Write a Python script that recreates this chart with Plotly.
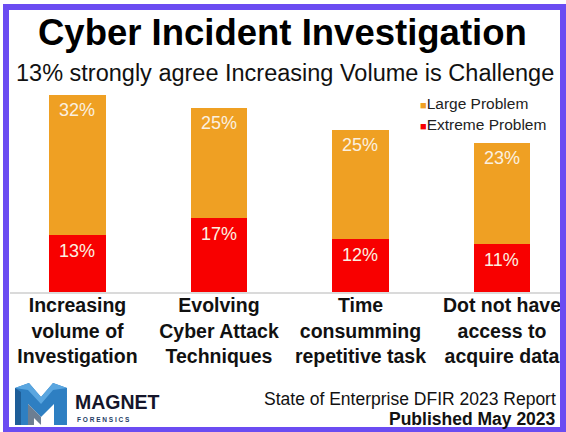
import plotly.graph_objects as go

# values
categories = [
    "Increasing<br>volume of<br>Investigation",
    "Evolving<br>Cyber Attack<br>Techniques",
    "Time<br>consumming<br>repetitive task",
    "Dot not have<br>access to<br>acquire data",
]
extreme = [13, 17, 12, 11]
large = [32, 25, 25, 23]

ORANGE = "#EFA023"
RED = "#F80000"
FRAME = "#6B4CF2"
LABEL = "#FBF0E0"
FONT = "Liberation Sans, Arial, sans-serif"

W, H = 566, 432
L, R, T, B = 10, 6, 70, 140


# helpers: pixel position on the page -> paper coordinates (for decorations only)
def px(x):
    return (x - L) / (W - L - R)


def py(y):
    return (H - B - y) / (H - T - B)


fig = go.Figure()
fig.add_trace(go.Bar(x=categories, y=extreme, name="Extreme Problem",
                     marker=dict(color=RED, line=dict(width=0)), width=0.40))
fig.add_trace(go.Bar(x=categories, y=large, name="Large Problem",
                     marker=dict(color=ORANGE, line=dict(width=0)), width=0.40))

ann = []
# value labels near the top of each segment
for c, e, g in zip(categories, extreme, large):
    ann.append(dict(x=c, y=e, xref="x", yref="y", text=f"{e}%", showarrow=False,
                    yanchor="middle", yshift=-16, font=dict(size=18, color=LABEL, family=FONT)))
    ann.append(dict(x=c, y=e + g, xref="x", yref="y", text=f"{g}%", showarrow=False,
                    yanchor="middle", yshift=-15, font=dict(size=18, color=LABEL, family=FONT)))

# titles
ann.append(dict(x=px(282), y=py(33), xref="paper", yref="paper", text="<b>Cyber Incident Investigation</b>",
                showarrow=False, xanchor="center", yanchor="middle",
                font=dict(size=36.5, color="#000000", family=FONT)))
ann.append(dict(x=px(285), y=py(73), xref="paper", yref="paper",
                text="13% strongly agree Increasing Volume is Challenge",
                showarrow=False, xanchor="center", yanchor="middle",
                font=dict(size=23.5, color="#111111", family=FONT)))

# legend
for name, col, yy in [("Large Problem", ORANGE, 103), ("Extreme Problem", RED, 124)]:
    ann.append(dict(x=px(418), y=py(yy), xref="paper", yref="paper",
                    text=f"<span style='color:{col};font-size:11px'>■</span>{name}",
                    showarrow=False, xanchor="left", yanchor="middle",
                    font=dict(size=15.5, color="#222222", family=FONT)))

# footer
ann.append(dict(x=px(558), y=py(399), xref="paper", yref="paper",
                text="State of Enterprise DFIR 2023 Report", showarrow=False,
                xanchor="right", yanchor="middle", font=dict(size=17.5, color="#111111", family=FONT)))
ann.append(dict(x=px(558), y=py(419), xref="paper", yref="paper",
                text="<b>Published May 2023</b>", showarrow=False,
                xanchor="right", yanchor="middle", font=dict(size=17.5, color="#111111", family=FONT)))

# logo text
ann.append(dict(x=px(73), y=py(402), xref="paper", yref="paper", text="<b>MAGNET</b>",
                showarrow=False, xanchor="left", yanchor="middle",
                font=dict(size=19.5, color="#15152a", family=FONT)))
ann.append(dict(x=px(75), y=py(419), xref="paper", yref="paper", text="<b>F O R E N S I C S</b>",
                showarrow=False, xanchor="left", yanchor="middle",
                font=dict(size=6.5, color="#1d3d66", family=FONT)))


def path(points):
    return "M " + " L ".join(f"{px(a):.4f},{py(b):.4f}" for a, b in points) + " Z"


shapes = [
    # outer frame
    dict(type="rect", xref="paper", yref="paper", x0=px(6), x1=px(563), y0=py(7), y1=py(430),
         line=dict(color=FRAME, width=6), fillcolor="rgba(0,0,0,0)", layer="above"),
    # logo "M" - back face
    dict(type="path", xref="paper", yref="paper",
         path=path([(15, 425), (15, 388), (29, 383), (41, 397), (53, 383), (67, 388), (67, 425),
                    (54, 425), (54, 404), (41, 417), (28, 404), (28, 425)]),
         fillcolor="#2E7FC2", line=dict(width=0)),
    # logo "M" - darker side faces
    dict(type="path", xref="paper", yref="paper",
         path=path([(15, 388), (21, 392), (21, 425), (15, 425)]),
         fillcolor="#1E5E98", line=dict(width=0)),
    dict(type="path", xref="paper", yref="paper",
         path=path([(28, 404), (41, 417), (41, 425), (34, 418), (34, 425), (28, 425)]),
         fillcolor="#6C7E92", line=dict(width=0)),
    dict(type="path", xref="paper", yref="paper",
         path=path([(15, 388), (29, 383), (41, 397), (53, 383), (67, 388), (53, 390), (41, 404), (28, 390)]),
         fillcolor="#5AA6E0", line=dict(width=0)),
]

fig.update_layout(
    width=W, height=H,
    margin=dict(l=L, r=R, t=T, b=B),
    barmode="stack",
    showlegend=False,
    paper_bgcolor="white",
    plot_bgcolor="white",
    font=dict(family=FONT),
    annotations=ann,
    shapes=shapes,
)
fig.update_xaxes(type="category", range=[-0.477, 3.41], showgrid=False, showline=True,
                 linecolor="#DADADA", linewidth=2, ticks="", ticklabelstandoff=-5,
                 tickfont=dict(size=19.5, color="#111111", family=FONT, weight="bold"))
fig.update_yaxes(range=[0, 50.7], visible=False, showgrid=False)

# the page's default body margin would push the fixed-size figure out of the window
fig.write_html("out.html", config={"displayModeBar": False},
               post_script="document.body.style.margin='0';")
